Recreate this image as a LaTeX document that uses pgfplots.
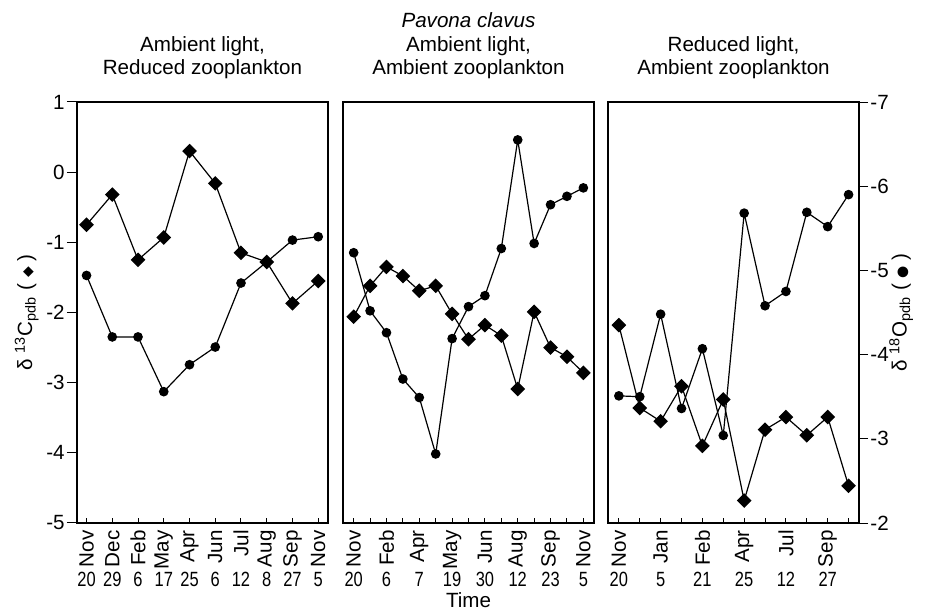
\documentclass[border=0pt]{standalone}
\usepackage{fontspec}
\setmainfont{Liberation Sans}
\newfontfamily\dejavu{DejaVu Sans}
\usepackage{graphicx}
\usepackage{pgfplots}
\pgfplotsset{compat=1.18}

\newcommand{\ml}[2]{\rotatebox{90}{\makebox[20pt][r]{#1}}\\[-4pt]\scalebox{0.8}[1]{#2}}
\newcommand{\fnt}{\fontsize{10.3}{12}\selectfont}

\pgfplotsset{
  base/.style={
    scale only axis, width=125.5pt, height=210.5pt,
    axis line style={line width=0.6pt},
    every tick/.append style={line width=0.5pt, black},
    tick label style={font=\fnt},
    label style={font=\fnt},
    title style={font=\fontsize{10.3}{11.5}\selectfont, align=center,
      at={(axis description cs:0.5,1.076)}, anchor=center, yshift=0pt},
    xticklabel style={align=center, anchor=north, inner sep=0pt, yshift=-3.5pt},
  },
  cax/.style={ymin=-5, ymax=1},
  oax/.style={ymin=-7, ymax=-2, y dir=reverse},
  xt/.style={ytick=\empty, tick align=inside, major tick length=2.5pt, minor tick length=2.5pt, xtick pos=left},
  dline/.style={black, line width=0.6pt, mark=square*, mark size=2.3pt, mark options={rotate=45, solid, fill=black}},
  cline/.style={black, line width=0.6pt, mark=*, mark size=2.1pt, mark options={solid, fill=black}},
}

\pgfplotstableread{
x  c      o
0  -0.75  -4.94
1  -0.32  -4.21
2  -1.25  -4.21
3  -0.93  -3.56
4   0.30  -3.88
5  -0.16  -4.09
6  -1.15  -4.85
7  -1.28  -5.10
8  -1.87  -5.36
9  -1.55  -5.40
}\panelA

\pgfplotstableread{
x  c      o
0  -2.06  -5.21
1  -1.62  -4.52
2  -1.35  -4.26
3  -1.48  -3.71
4  -1.69  -3.49
5  -1.62  -2.82
6  -2.02  -4.19
7  -2.38  -4.57
8  -2.18  -4.70
9  -2.33  -5.26
10 -3.09  -6.55
11 -1.99  -5.32
12 -2.50  -5.78
13 -2.63  -5.88
14 -2.86  -5.98
}\panelB

\pgfplotstableread{
x  c      o
0  -2.18  -3.51
1  -3.36  -3.50
2  -3.55  -4.48
3  -3.05  -3.36
4  -3.90  -4.07
5  -3.24  -3.04
6  -4.68  -5.68
7  -3.67  -4.58
8  -3.49  -4.75
9  -3.75  -5.69
10 -3.49  -5.52
11 -4.47  -5.90
}\panelC

\begin{document}
\begin{tikzpicture}
\path[use as bounding box] (-38.5pt,-45.5pt) rectangle (426pt,261.5pt);

% ---------- Panel 1 ----------
\begin{axis}[base, cax, xt, at={(0pt,0pt)}, xmin=-0.37, xmax=9.38,
  xtick={0,...,9},
  xticklabels={\ml{Nov}{20},\ml{Dec}{29},\ml{Feb}{6},\ml{May}{17},\ml{Apr}{25},\ml{Jun}{6},\ml{Jul}{12},\ml{Aug}{8},\ml{Sep}{27},\ml{Nov}{5}},
  title={Ambient light,\\Reduced zooplankton}]
\end{axis}
\begin{axis}[base, cax, at={(0pt,0pt)}, xmin=-0.37, xmax=9.38,
  xtick=\empty, ytick={-5,...,1}, yticklabels={-5,-4,-3,-2,-1,0,1},
  ytick pos=left, tick align=outside, major tick length=5pt,
  yticklabel style={inner sep=1pt},
  ylabel={δ \textsuperscript{13}C\textsubscript{pdb} ( {\dejavu\fontsize{7}{8}\selectfont ◆} )},
  ylabel style={at={(axis description cs:-0.2,0.5)}, anchor=center}]
\addplot[dline] table[x=x, y=c] {\panelA};
\end{axis}
\begin{axis}[base, oax, at={(0pt,0pt)}, xmin=-0.37, xmax=9.38, xtick=\empty, ytick=\empty]
\addplot[cline] table[x=x, y=o] {\panelA};
\end{axis}

% ---------- Panel 2 ----------
\begin{axis}[base, cax, xt, at={(133pt,0pt)}, xmin=-0.65, xmax=14.65,
  xtick={0,2,...,14}, minor xtick={1,3,...,13},
  xticklabels={\ml{Nov}{20},\ml{Feb}{6},\ml{Apr}{7},\ml{May}{19},\ml{Jun}{30},\ml{Aug}{12},\ml{Sep}{23},\ml{Nov}{5}},
  title={Ambient light,\\Ambient zooplankton},
  xlabel={Time},
  xlabel style={at={(axis description cs:0.5,-0.183)}, anchor=center}]
\addplot[dline] table[x=x, y=c] {\panelB};
\end{axis}
\begin{axis}[base, oax, at={(133pt,0pt)}, xmin=-0.65, xmax=14.65, xtick=\empty, ytick=\empty,
  title={\itshape Pavona clavus},
  title style={at={(axis description cs:0.5,1.166)}, anchor=center, yshift=0pt}]
\addplot[cline] table[x=x, y=o] {\panelB};
\end{axis}

% ---------- Panel 3 ----------
\begin{axis}[base, cax, xt, at={(265.5pt,0pt)}, xmin=-0.52, xmax=11.5,
  xtick={0,2,...,10}, minor xtick={1,3,...,11},
  xticklabels={\ml{Nov}{20},\ml{Jan}{5},\ml{Feb}{21},\ml{Apr}{25},\ml{Jul}{12},\ml{Sep}{27}},
  title={Reduced light,\\Ambient zooplankton}]
\addplot[dline] table[x=x, y=c] {\panelC};
\end{axis}
\begin{axis}[base, oax, at={(265.5pt,0pt)}, xmin=-0.52, xmax=11.5, xtick=\empty,
  ytick={-7,...,-2}, yticklabels={-7,-6,-5,-4,-3,-2},
  ytick pos=right, tick align=outside, major tick length=4.5pt,
  yticklabel style={inner sep=1pt},
  ylabel={δ \textsuperscript{18}O\textsubscript{pdb} ( {\dejavu\fontsize{7}{8}\selectfont ●} )},
  ylabel style={at={(axis description cs:1.168,0.5)}, anchor=center}]
\addplot[cline] table[x=x, y=o] {\panelC};
\end{axis}
\end{tikzpicture}
\end{document}
